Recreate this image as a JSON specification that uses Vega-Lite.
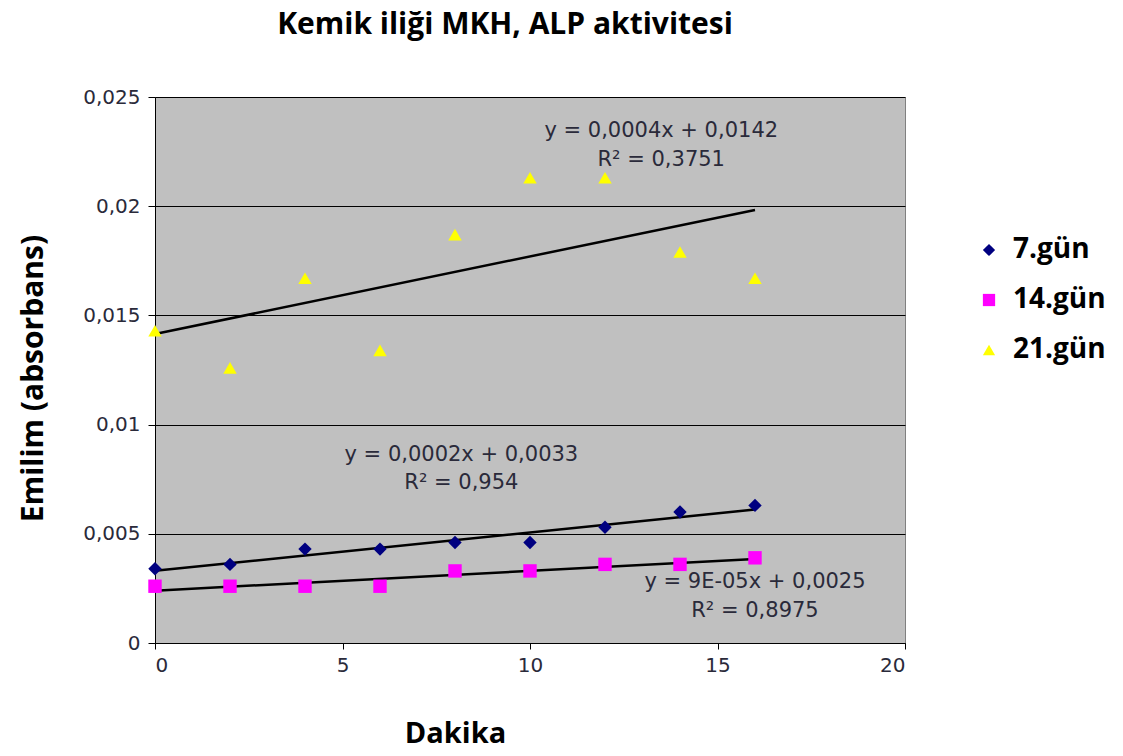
{
  "$schema": "https://vega.github.io/schema/vega-lite/v6.json",
  "width": 750,
  "height": 546,
  "autosize": "none",
  "padding": {"left": 155, "top": 97, "right": 218, "bottom": 113},
  "background": "white",
  "title": {
    "text": "Kemik iliği MKH, ALP aktivitesi",
    "font": "Open Sans",
    "fontSize": 30,
    "fontWeight": "bold",
    "color": "#000000",
    "anchor": "middle",
    "frame": "group",
    "dx": -25,
    "offset": 47
  },
  "datasets": {
    "pts": [
      {"x": 0, "y": 0.0034, "series": "7.gün"},
      {"x": 2, "y": 0.0036, "series": "7.gün"},
      {"x": 4, "y": 0.0043, "series": "7.gün"},
      {"x": 6, "y": 0.0043, "series": "7.gün"},
      {"x": 8, "y": 0.0046, "series": "7.gün"},
      {"x": 10, "y": 0.0046, "series": "7.gün"},
      {"x": 12, "y": 0.0053, "series": "7.gün"},
      {"x": 14, "y": 0.006, "series": "7.gün"},
      {"x": 16, "y": 0.0063, "series": "7.gün"},
      {"x": 0, "y": 0.0026, "series": "14.gün"},
      {"x": 2, "y": 0.0026, "series": "14.gün"},
      {"x": 4, "y": 0.0026, "series": "14.gün"},
      {"x": 6, "y": 0.0026, "series": "14.gün"},
      {"x": 8, "y": 0.0033, "series": "14.gün"},
      {"x": 10, "y": 0.0033, "series": "14.gün"},
      {"x": 12, "y": 0.0036, "series": "14.gün"},
      {"x": 14, "y": 0.0036, "series": "14.gün"},
      {"x": 16, "y": 0.0039, "series": "14.gün"},
      {"x": 0, "y": 0.0143, "series": "21.gün"},
      {"x": 2, "y": 0.0126, "series": "21.gün"},
      {"x": 4, "y": 0.0167, "series": "21.gün"},
      {"x": 6, "y": 0.0134, "series": "21.gün"},
      {"x": 8, "y": 0.0187, "series": "21.gün"},
      {"x": 10, "y": 0.0213, "series": "21.gün"},
      {"x": 12, "y": 0.0213, "series": "21.gün"},
      {"x": 14, "y": 0.0179, "series": "21.gün"},
      {"x": 16, "y": 0.0167, "series": "21.gün"}
    ],
    "notes": [
      {"x": 13.5, "y": 0.02344, "label": "y = 0,0004x + 0,0142"},
      {"x": 13.5, "y": 0.02212, "label": "R² = 0,3751"},
      {"x": 8.17, "y": 0.00861, "label": "y = 0,0002x + 0,0033"},
      {"x": 8.17, "y": 0.00733, "label": "R² = 0,954"},
      {"x": 16.0, "y": 0.00279, "label": "y = 9E-05x + 0,0025"},
      {"x": 16.0, "y": 0.00147, "label": "R² = 0,8975"}
    ]
  },
  "config": {
    "view": {"fill": "#c0c0c0", "stroke": "#808080", "strokeWidth": 1},
    "axis": {
      "labelFont": "DejaVu Sans",
      "labelFontSize": 20,
      "labelColor": "#2a2a3a",
      "domainColor": "#000000",
      "tickColor": "#000000",
      "titleFont": "Open Sans",
      "titleFontWeight": "bold",
      "titleFontSize": 29,
      "titleColor": "#000000"
    }
  },
  "layer": [
    {
      "data": {"name": "pts"},
      "transform": [
        {"regression": "y", "on": "x", "groupby": ["series"], "extent": [0, 16]}
      ],
      "mark": {"type": "line", "color": "#000000", "strokeWidth": 2.5},
      "encoding": {
        "x": {"field": "x", "type": "quantitative"},
        "y": {"field": "y", "type": "quantitative"},
        "detail": {"field": "series"}
      }
    },
    {
      "data": {"name": "pts"},
      "mark": {"type": "point", "filled": true, "opacity": 1, "size": 180},
      "encoding": {
        "x": {
          "field": "x",
          "type": "quantitative",
          "scale": {"domain": [0, 20], "nice": false},
          "axis": {
            "values": [0, 5, 10, 15, 20],
            "grid": false,
            "tickSize": 6,
            "labelPadding": 6,
            "title": "Dakika",
            "titleX": 300,
            "titleY": 99,
            "titleBaseline": "alphabetic"
          }
        },
        "y": {
          "field": "y",
          "type": "quantitative",
          "scale": {"domain": [0, 0.025], "nice": false},
          "axis": {
            "values": [0, 0.005, 0.01, 0.015, 0.02, 0.025],
            "grid": true,
            "gridColor": "#000000",
            "gridWidth": 1.2,
            "tickSize": 7,
            "labelPadding": 8,
            "labelExpr": "replace(format(datum.value, '.3~f'), '.', ',')",
            "title": "Emilim (absorbans)",
            "titleFontSize": 30,
            "titleX": -107,
            "titleY": 281
          }
        },
        "color": {
          "field": "series",
          "type": "nominal",
          "scale": {"domain": ["7.gün", "14.gün", "21.gün"], "range": ["#000080", "#ff00ff", "#ffff00"]},
          "legend": {
            "title": null,
            "orient": "none",
            "legendX": 820,
            "legendY": 139,
            "labelFont": "Open Sans",
            "labelFontSize": 28,
            "labelFontWeight": "bold",
            "labelColor": "#000000",
            "symbolSize": 150,
            "rowPadding": 22,
            "labelOffset": 10
          }
        },
        "shape": {
          "field": "series",
          "type": "nominal",
          "scale": {"domain": ["7.gün", "14.gün", "21.gün"], "range": ["diamond", "square", "triangle-up"]}
        }
      }
    },
    {
      "data": {"name": "notes"},
      "mark": {"type": "text", "font": "DejaVu Sans", "fontSize": 21, "color": "#2a2a3a"},
      "encoding": {
        "x": {"field": "x", "type": "quantitative"},
        "y": {"field": "y", "type": "quantitative"},
        "text": {"field": "label"}
      }
    }
  ]
}
